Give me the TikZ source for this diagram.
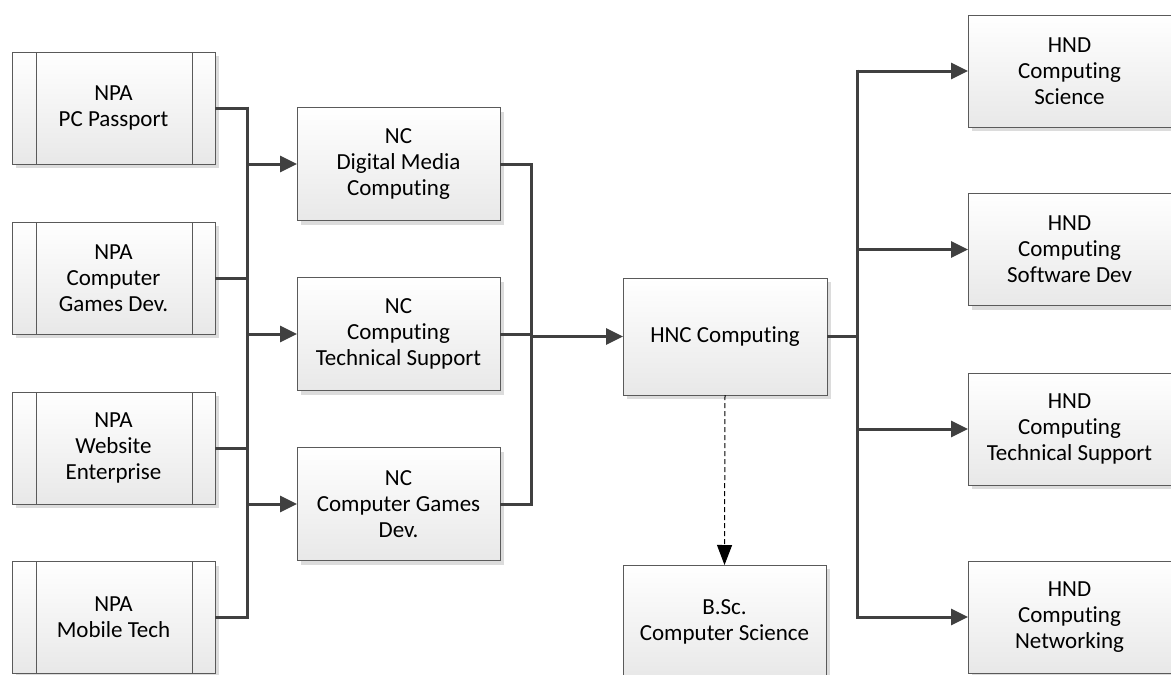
\documentclass[tikz,border=0pt]{standalone}
\usepackage{fontspec}
\setmainfont{Carlito}[Ligatures={NoCommon}]
\usetikzlibrary{arrows.meta,shadows}
\definecolor{linec}{HTML}{404040}
\definecolor{edgec}{HTML}{5A5A5A}
\definecolor{shadowc}{HTML}{DCDCDC}
\tikzset{
  box/.style={draw=edgec, line width=1pt, top color=white, bottom color=black!9,
    minimum width=203pt, minimum height=112pt, inner sep=0pt, outer sep=0pt,
    align=center, font=\fontsize{23}{26}\selectfont, text=black,
    drop shadow={fill=shadowc, opacity=1, shadow xshift=4pt, shadow yshift=-4pt}},
  conn/.style={draw=linec, line width=3pt},
  arr/.style={conn, -{Triangle[length=17pt,width=16pt]}},
  dasharr/.style={draw=black, line width=1pt, dash pattern=on 5pt off 3pt,
    -{Triangle[length=20pt,width=15pt]}},
  sideline/.style={draw=edgec, line width=1pt},
}
\begin{document}
\begin{tikzpicture}[x=1pt,y=-1pt]
\useasboundingbox (0,0) rectangle (1171,675);
% NPA boxes
\node[box] (npa1) at (113.5,108) {NPA\\PC Passport};
\node[box] (npa2) at (113.5,278) {NPA\\Computer\\Games Dev.};
\node[box] (npa3) at (113.5,448) {NPA\\Website\\Enterprise};
\node[box] (npa4) at (113.5,617.5) {NPA\\Mobile Tech};
\foreach \n in {npa1,npa2,npa3,npa4}{
  \draw[sideline] ([xshift=24pt]\n.north west) -- ([xshift=24pt]\n.south west)
                  ([xshift=-23pt]\n.north east) -- ([xshift=-23pt]\n.south east);
}
% NC boxes
\node[box, minimum height=113pt] (nc1) at (398.5,164) {NC\\Digital Media\\Computing};
\node[box, minimum height=113pt] (nc2) at (398.5,334) {NC\\Computing\\Technical Support};
\node[box, minimum height=113pt] (nc3) at (398.5,504) {NC\\Computer Games\\Dev.};
% HNC and BSc
\node[box, minimum width=204pt, minimum height=117pt] (hnc) at (725,336.5) {HNC Computing};
\node[box, minimum height=113pt] (bsc) at (724.5,621.5) {B.Sc.\\Computer Science};
% HND boxes
\node[box] (hnd1) at (1069.5,71) {HND\\Computing\\Science};
\node[box] (hnd2) at (1069.5,249.5) {HND\\Computing\\Software Dev};
\node[box] (hnd3) at (1069.5,429) {HND\\Computing\\Technical Support};
\node[box] (hnd4) at (1069.5,617) {HND\\Computing\\Networking};
% bus coordinates
\coordinate (lbus) at (247,0);
\coordinate (mbus) at (531,0);
\coordinate (rbus) at (857,0);
% left bus
\foreach \n in {npa1,npa2,npa3,npa4}{
  \draw[conn] (\n.east) -- (\n.east -| lbus);
}
\draw[conn] ([yshift=1.5pt]npa1.east -| lbus) -- ([yshift=-1.5pt]npa4.east -| lbus);
\foreach \n in {nc1,nc2,nc3}{
  \draw[arr] (\n.west -| lbus) -- (\n.west);
}
% middle bus
\draw[conn] (nc1.east) -- (nc1.east -| mbus) -- (nc3.east -| mbus) -- (nc3.east);
\draw[conn] (nc2.east) -- (nc2.east -| mbus);
\draw[arr] (hnc.west -| mbus) -- (hnc.west);
% right bus
\draw[conn] (hnc.east) -- (hnc.east -| rbus);
\draw[conn] ([yshift=1.5pt]hnd1.west -| rbus) -- ([yshift=-1.5pt]hnd4.west -| rbus);
\foreach \n in {hnd1,hnd2,hnd3,hnd4}{
  \draw[arr] (\n.west -| rbus) -- (\n.west);
}
% dashed
\draw[dasharr] (hnc.south) -- (bsc.north);
\end{tikzpicture}
\end{document}
